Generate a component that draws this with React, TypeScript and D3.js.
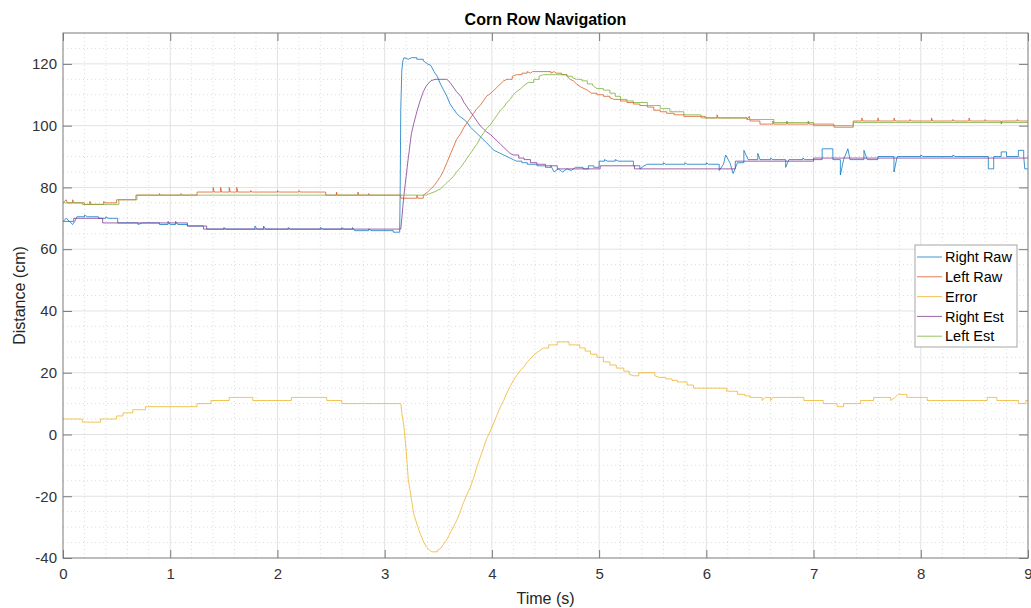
import { useEffect, useRef } from 'react'
import * as d3 from 'd3'

type Pt = [number, number]

// [time (s), distance (cm)] — samples
const rightRaw: Pt[] = [
  [0, 69], [0.03, 70], [0.06, 69], [0.09, 68], [0.11, 69], [0.13, 70.5], [0.2, 71], [0.23, 70.5],
  [0.33, 70], [0.4, 70.5], [0.42, 70], [0.51, 68.5], [0.7, 68], [0.74, 68.5], [0.9, 68], [0.98, 69],
  [1.0, 68], [1.05, 69], [1.07, 68], [1.16, 67.5], [1.31, 66.5], [1.5, 67], [1.52, 66.5], [1.79, 67.5],
  [1.81, 66.5], [1.87, 67.5], [1.89, 66.5], [2.1, 67], [2.12, 66.5], [2.4, 67], [2.43, 66.5], [2.6, 67],
  [2.62, 66.5], [2.7, 67], [2.72, 66], [2.85, 66.5], [2.88, 66], [3.08, 65.5], [3.14, 65.5], [3.145, 80],
  [3.15, 105], [3.16, 118], [3.17, 121], [3.18, 122], [3.22, 121.5], [3.25, 122], [3.3, 121.5], [3.36, 121],
  [3.4, 120], [3.43, 119.5], [3.46, 117.5], [3.49, 116], [3.52, 113.5], [3.55, 111.5], [3.58, 109.5], [3.61, 107],
  [3.64, 105.5], [3.67, 104], [3.7, 103], [3.74, 102], [3.77, 101], [3.8, 99.5], [3.83, 98.5], [3.86, 97.5],
  [3.89, 96.5], [3.92, 95.5], [3.95, 94.5], [3.99, 93], [4.02, 92], [4.05, 91.5], [4.08, 91], [4.11, 90.5],
  [4.14, 90], [4.17, 89.5], [4.2, 89], [4.23, 88.5], [4.28, 88], [4.33, 87.5], [4.42, 87], [4.5, 86.5],
  [4.55, 87], [4.58, 85], [4.62, 86], [4.66, 85], [4.7, 86], [4.74, 85.5], [4.78, 86.5], [4.85, 86],
  [4.9, 87], [4.95, 86.5], [5.0, 88.5], [5.05, 89], [5.08, 88.5], [5.15, 89], [5.18, 88.5], [5.32, 87],
  [5.38, 86], [5.42, 87], [5.45, 87.5], [5.6, 88], [5.62, 87.5], [5.8, 88], [5.82, 87.5], [6.0, 88],
  [6.02, 87.5], [6.12, 85.5], [6.16, 87.5], [6.18, 90.5], [6.22, 88], [6.25, 84.5], [6.29, 88], [6.35, 92],
  [6.39, 89], [6.48, 91], [6.5, 89], [6.6, 89.5], [6.62, 89], [6.74, 86.5], [6.77, 89], [6.9, 89.5],
  [6.92, 89], [7.08, 92.5], [7.18, 89], [7.25, 84], [7.28, 89], [7.32, 92.5], [7.34, 89], [7.47, 92],
  [7.5, 89], [7.6, 90], [7.75, 85], [7.78, 90], [8.0, 90.5], [8.02, 90], [8.3, 90.5], [8.32, 90],
  [8.63, 86], [8.68, 90], [8.75, 91.5], [8.8, 90], [8.91, 92], [8.96, 90], [8.97, 86], [9.0, 86],
]

const leftRaw: Pt[] = [
  [0, 75], [0.03, 76], [0.04, 75], [0.09, 76], [0.1, 75], [0.2, 74.5], [0.25, 75.5], [0.26, 74.5],
  [0.38, 75.5], [0.39, 75], [0.5, 76], [0.68, 77.5], [0.9, 78], [0.91, 77.5], [1.1, 78], [1.11, 77.5],
  [1.25, 78.5], [1.4, 80], [1.41, 78.5], [1.47, 80], [1.48, 78.5], [1.55, 80], [1.56, 78.5], [1.62, 80],
  [1.63, 78.5], [1.75, 79], [1.76, 78.5], [2.0, 79], [2.01, 78.5], [2.2, 79], [2.21, 78.5], [2.45, 77.5],
  [2.55, 78.5], [2.56, 77.5], [2.75, 78.5], [2.76, 77.5], [2.85, 78], [2.86, 77.5], [3.15, 76.5],
  [3.3, 77.5], [3.31, 76.5], [3.36, 77.5], [3.4, 78.5], [3.43, 79.5], [3.46, 80.5], [3.49, 82],
  [3.52, 83.5], [3.55, 85.5], [3.58, 88], [3.61, 90.5], [3.64, 93], [3.67, 95.5], [3.71, 97.5],
  [3.74, 99.5], [3.77, 101], [3.8, 102.5], [3.83, 104], [3.86, 105.5], [3.89, 106.5], [3.92, 108],
  [3.95, 109.5], [3.99, 110.5], [4.02, 111.5], [4.05, 112.5], [4.08, 113.5], [4.11, 114.5], [4.14, 115],
  [4.19, 116], [4.23, 116.5], [4.28, 117], [4.33, 117.5], [4.36, 117], [4.38, 117.5], [4.55, 117],
  [4.58, 117.5], [4.6, 117], [4.65, 116.5], [4.7, 116], [4.73, 115], [4.76, 114.5], [4.79, 113.5],
  [4.83, 112.5], [4.86, 112], [4.89, 111.5], [4.93, 110.5], [4.98, 110], [5.04, 109.5], [5.1, 109],
  [5.14, 108.5], [5.2, 108], [5.26, 107.5], [5.32, 107], [5.38, 106.5], [5.45, 106], [5.51, 105],
  [5.57, 104.5], [5.63, 104], [5.7, 103.5], [5.79, 103], [5.99, 102.5], [6.1, 103.5], [6.11, 102.5],
  [6.38, 102], [6.4, 103], [6.41, 101.5], [6.5, 100.5], [6.62, 101.5], [6.63, 100.5], [6.75, 101.5],
  [6.76, 100.5], [6.95, 101.5], [6.96, 100.5], [7.19, 99.5], [7.37, 101.5], [7.45, 102.5], [7.46, 101.5],
  [7.6, 102.5], [7.61, 101.5], [7.75, 102.5], [7.76, 101.5], [7.9, 102], [7.91, 101.5], [8.1, 102.5],
  [8.11, 101.5], [8.3, 102], [8.31, 101.5], [8.45, 102.5], [8.46, 101.5], [8.6, 102], [8.61, 101.5],
  [8.75, 100.5], [8.76, 101.5], [8.9, 102], [8.91, 101.5], [9.0, 101.5],
]

const errorSeries: Pt[] = [
  [0, 5], [0.18, 4], [0.35, 5], [0.5, 6], [0.56, 7], [0.65, 8], [0.77, 9], [1.25, 10], [1.38, 11],
  [1.55, 12], [1.77, 11], [2.13, 12], [2.46, 11], [2.6, 10], [3.15, 10], [3.16, 7], [3.18, 2.5], [3.2, -5],
  [3.22, -14.5], [3.25, -21], [3.27, -25.5], [3.3, -29], [3.33, -32], [3.36, -34.5], [3.39, -36.5],
  [3.42, -37.5], [3.44, -38], [3.49, -37.5], [3.52, -37], [3.55, -35.5], [3.58, -34], [3.61, -32],
  [3.64, -30], [3.67, -28], [3.7, -25.5], [3.73, -22.5], [3.76, -20], [3.8, -17], [3.83, -14],
  [3.86, -10.5], [3.89, -7.5], [3.92, -4.5], [3.95, -1.5], [3.99, 1.5], [4.02, 4], [4.05, 6.5],
  [4.08, 9], [4.11, 11], [4.14, 13.5], [4.17, 15.5], [4.2, 17.5], [4.23, 19], [4.26, 20.5], [4.3, 22],
  [4.33, 23.5], [4.36, 24.5], [4.4, 26], [4.44, 27], [4.48, 28], [4.53, 29], [4.61, 30], [4.72, 29],
  [4.82, 28], [4.87, 27], [4.92, 26], [4.98, 25], [5.04, 23.5], [5.1, 22.5], [5.16, 21.5], [5.23, 20.5],
  [5.28, 19.5], [5.32, 19], [5.37, 20], [5.52, 19], [5.56, 18.5], [5.62, 18], [5.68, 17.5], [5.73, 17],
  [5.82, 16], [5.88, 15], [6.19, 14], [6.29, 13], [6.36, 12.5], [6.41, 12], [6.52, 11], [6.55, 12],
  [6.6, 11], [6.62, 12], [6.91, 11], [7.09, 10], [7.22, 9], [7.28, 10], [7.44, 11], [7.56, 12],
  [7.72, 11], [7.76, 12], [7.79, 13], [7.87, 12], [8.06, 11], [8.62, 12], [8.71, 11], [8.91, 10],
  [8.98, 11], [9.0, 11],
]

const rightEst: Pt[] = [
  [0, 69], [0.1, 70], [0.37, 68.5], [1.16, 67.5], [1.34, 66.5], [3.15, 66.5], [3.16, 70], [3.17, 74], [3.18, 77.5],
  [3.19, 80.5], [3.2, 83.5], [3.21, 86.5], [3.22, 89.5], [3.23, 92], [3.24, 95], [3.25, 97.5],
  [3.27, 100.5], [3.3, 104.5], [3.33, 108], [3.36, 111], [3.39, 113], [3.43, 114.5], [3.47, 115],
  [3.58, 115], [3.61, 114], [3.64, 112.5], [3.67, 111], [3.71, 109.5], [3.74, 107.5], [3.77, 106], [3.8, 104.5],
  [3.83, 103], [3.86, 101.5], [3.89, 100], [3.92, 99], [3.95, 98], [3.99, 97], [4.02, 96], [4.05, 95],
  [4.08, 94], [4.11, 93], [4.14, 92], [4.17, 91], [4.2, 90.5], [4.25, 89.5], [4.3, 89], [4.36, 88],
  [4.42, 87.5], [4.5, 87], [4.61, 86], [5.01, 87], [5.33, 86], [6.27, 88.5], [7.0, 89.5], [9.0, 89.5],
]

const leftEst: Pt[] = [
  [0, 75], [0.18, 74.5], [0.52, 76], [0.69, 77.5], [3.39, 77.5], [3.42, 78], [3.46, 78.5], [3.49, 79], [3.52, 79.5],
  [3.55, 80.5], [3.58, 81.5], [3.61, 82.5], [3.64, 83.5], [3.67, 85], [3.71, 86.5], [3.74, 88],
  [3.77, 89.5], [3.8, 91], [3.83, 92.5], [3.86, 94], [3.89, 96], [3.92, 97.5], [3.95, 99], [3.99, 100.5],
  [4.02, 102], [4.05, 103.5], [4.08, 105], [4.11, 106], [4.14, 107.5], [4.17, 108.5], [4.2, 110],
  [4.23, 111], [4.27, 112], [4.3, 113], [4.34, 114], [4.39, 115], [4.44, 116], [4.48, 116.5], [4.7, 116],
  [4.75, 115.5], [4.79, 115], [4.84, 114.5], [4.89, 113.5], [4.94, 113], [4.98, 112], [5.04, 111.5],
  [5.1, 110.5], [5.15, 109.5], [5.2, 108.5], [5.26, 108], [5.32, 107.5], [5.45, 106.5], [5.57, 105.5],
  [5.66, 104.5], [5.79, 103.5], [5.95, 102.5], [6.38, 102], [6.63, 101], [7.0, 100], [7.37, 101],
  [9.0, 101],
]

const seriesNames = ['Right Raw', 'Left Raw', 'Error', 'Right Est', 'Left Est']
const seriesData = [rightRaw, leftRaw, errorSeries, rightEst, leftEst]
const seriesColors = ['#0072BD', '#D95319', '#EDB120', '#7E2F8E', '#77AC30']

const xTicks = [0, 1, 2, 3, 4, 5, 6, 7, 8, 9]
const yTicks = [-40, -20, 0, 20, 40, 60, 80, 100, 120]

const FONT = "'Liberation Sans', Arial, Helvetica, sans-serif"

// held samples: step when the next sample is far away, straight segment when close
const samplePath = (data: Pt[], x: d3.ScaleLinear<number, number>, y: d3.ScaleLinear<number, number>) => {
  const p = d3.path()
  data.forEach((d, i) => {
    if (i === 0) { p.moveTo(x(d[0]), y(d[1])); return }
    const prev = data[i - 1]
    if (d[0] - prev[0] > 0.045) {
      p.lineTo(x(d[0]), y(prev[1]))
    }
    p.lineTo(x(d[0]), y(d[1]))
  })
  return p.toString()
}

const CornRowChart = () => {
  const svgRef = useRef<SVGSVGElement>(null)

  useEffect(() => {
    if (!svgRef.current) return

    const width = 1031
    const height = 608
    const margin = { top: 33, right: 3, bottom: 50, left: 63 }
    const x0 = margin.left
    const x1 = width - margin.right
    const y0 = height - margin.bottom
    const y1 = margin.top

    const svg = d3.select(svgRef.current)
    svg.selectAll('*').remove()
    svg.attr('width', width).attr('height', height)

    const x = d3.scaleLinear().domain([0, 9]).range([x0, x1])
    const y = d3.scaleLinear().domain([-40, 130]).range([y0, y1])

    svg.append('rect').attr('width', width).attr('height', height).attr('fill', '#fff')

    // minor grid (dotted)
    const xMinor = d3.range(0, 9.001, 0.2).filter(v => Math.abs(v - Math.round(v)) > 1e-6)
    const yMinor = d3.range(-40, 130.001, 5).filter(v => v % 20 !== 0 && v < 130)
    const grid = svg.append('g')
    grid.selectAll('.xm').data(xMinor).enter().append('line')
      .attr('x1', d => x(d)).attr('x2', d => x(d)).attr('y1', y0).attr('y2', y1)
      .attr('stroke', '#dcdcdc').attr('stroke-width', 1).attr('stroke-dasharray', '1,3')
    grid.selectAll('.ym').data(yMinor).enter().append('line')
      .attr('y1', d => y(d)).attr('y2', d => y(d)).attr('x1', x0).attr('x2', x1)
      .attr('stroke', '#dcdcdc').attr('stroke-width', 1).attr('stroke-dasharray', '1,3')

    // major grid
    grid.selectAll('.xM').data(xTicks.slice(1, -1)).enter().append('line')
      .attr('x1', d => x(d)).attr('x2', d => x(d)).attr('y1', y0).attr('y2', y1)
      .attr('stroke', '#e2e2e2').attr('stroke-width', 1)
    grid.selectAll('.yM').data(yTicks.slice(1)).enter().append('line')
      .attr('y1', d => y(d)).attr('y2', d => y(d)).attr('x1', x0).attr('x2', x1)
      .attr('stroke', '#e2e2e2').attr('stroke-width', 1)

    // data lines
    svg.append('clipPath').attr('id', 'plotClip').append('rect')
      .attr('x', x0).attr('y', y1).attr('width', x1 - x0).attr('height', y0 - y1)

    const lines = svg.append('g').attr('clip-path', 'url(#plotClip)')
    seriesData.forEach((data, i) => {
      lines.append('path')
        .attr('fill', 'none')
        .attr('stroke', seriesColors[i])
        .attr('stroke-opacity', 0.75)
        .attr('stroke-width', 1)
        .attr('stroke-linejoin', 'round')
        .attr('d', samplePath(data, x, y))
    })

    // axes
    const axisColor = '#7a7a7a'
    const styleAxis = (g: d3.Selection<SVGGElement, unknown, null, undefined>) => {
      g.select('.domain').remove()
      g.selectAll('.tick line').attr('stroke', axisColor).attr('stroke-width', 1)
      g.selectAll('.tick text')
        .attr('fill', '#333')
        .attr('font-size', '15px')
        .attr('font-family', FONT)
    }

    svg.append('g')
      .attr('transform', `translate(0,${y0})`)
      .call(d3.axisBottom(x).tickValues(xTicks).tickSize(-8).tickPadding(10).tickFormat(d => String(d)))
      .call(styleAxis)

    svg.append('g')
      .attr('transform', `translate(${x0},0)`)
      .call(d3.axisLeft(y).tickValues(yTicks).tickSize(-9).tickPadding(6).tickFormat(d => String(d)))
      .call(styleAxis)

    svg.append('g')
      .attr('transform', `translate(0,${y1})`)
      .call(d3.axisTop(x).tickValues(xTicks).tickSize(-8).tickFormat(() => ''))
      .call(styleAxis)

    svg.append('g')
      .attr('transform', `translate(${x1},0)`)
      .call(d3.axisRight(y).tickValues(yTicks).tickSize(-9).tickFormat(() => ''))
      .call(styleAxis)

    svg.append('rect')
      .attr('x', x0).attr('y', y1).attr('width', x1 - x0).attr('height', y0 - y1)
      .attr('fill', 'none').attr('stroke', axisColor).attr('stroke-width', 1)

    // labels
    svg.append('text')
      .attr('x', (x0 + x1) / 2).attr('y', 25)
      .attr('text-anchor', 'middle')
      .attr('font-family', FONT).attr('font-size', '16px').attr('font-weight', 'bold')
      .attr('fill', '#000')
      .text('Corn Row Navigation')

    svg.append('text')
      .attr('x', (x0 + x1) / 2).attr('y', 604)
      .attr('text-anchor', 'middle')
      .attr('font-family', FONT).attr('font-size', '16px')
      .attr('fill', '#262626')
      .text('Time (s)')

    svg.append('text')
      .attr('transform', `translate(25,${(y0 + y1) / 2}) rotate(-90)`)
      .attr('text-anchor', 'middle')
      .attr('font-family', FONT).attr('font-size', '16px')
      .attr('fill', '#262626')
      .text('Distance (cm)')

    // legend
    const legend = svg.append('g')
    legend.append('rect')
      .attr('x', 915).attr('y', 245).attr('width', 102).attr('height', 102)
      .attr('fill', '#fff').attr('stroke', '#a6a6a6').attr('stroke-width', 1)
    seriesNames.forEach((name, i) => {
      const cy = 257 + i * 19.8
      legend.append('line')
        .attr('x1', 917).attr('x2', 942).attr('y1', cy).attr('y2', cy)
        .attr('stroke', seriesColors[i]).attr('stroke-opacity', 0.75).attr('stroke-width', 1)
      legend.append('text')
        .attr('x', 945).attr('y', cy).attr('dy', '0.36em')
        .attr('font-family', FONT).attr('font-size', '14.5px')
        .attr('fill', '#000')
        .text(name)
    })
  }, [])

  return <svg ref={svgRef} style={{ position: 'absolute', left: 0, top: 0 }}></svg>
}

export default function App() {
  return <CornRowChart />
}
